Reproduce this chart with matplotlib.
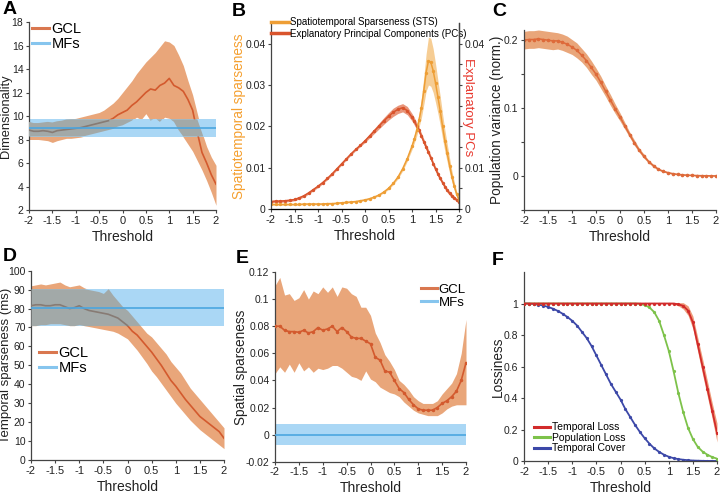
import numpy as np
import matplotlib
matplotlib.use('Agg')
import matplotlib.pyplot as plt
from matplotlib.lines import Line2D

plt.rcParams['font.family'] = ['Liberation Sans', 'DejaVu Sans']
plt.rcParams['axes.unicode_minus'] = False

# ---------------- data ----------------
x_ticks = [-2, -1.5, -1, -0.5, 0, 0.5, 1, 1.5, 2]
x_ticklabels = ['-2', '-1.5', '-1', '-0.5', '0', '0.5', '1', '1.5', '2']

thr = np.linspace(-2, 2, 41)  # threshold sampling, step 0.1

# Panel A: dimensionality
A_gcl = [8.8, 8.7, 8.7, 8.75, 8.7, 8.6, 8.75, 8.8, 8.85, 8.9, 8.95, 9.0, 9.1, 9.2, 9.3, 9.4,
         9.5, 9.6, 9.8, 10.1, 10.3, 10.5, 10.9, 11.2, 11.6, 12.0, 12.3, 12.2, 12.6, 12.8, 13.2,
         12.6, 12.4, 12.1, 11.4, 10.5, 8.6, 6.9, 6.0, 5.0, 4.2]
A_gcl_lo = [8.0, 8.0, 8.0, 7.95, 7.9, 7.75, 7.9, 8.0, 8.1, 8.1, 8.15, 8.2, 8.3, 8.4, 8.5, 8.6,
            8.7, 8.8, 8.9, 9.1, 9.2, 9.4, 9.6, 9.9, 9.7, 10.2, 9.6, 9.8, 9.5, 9.9, 9.8,
            9.5, 8.8, 8.2, 7.6, 7.0, 6.2, 5.4, 4.5, 3.5, 2.4]
A_gcl_hi = [9.5, 9.4, 9.4, 9.45, 9.5, 9.45, 9.55, 9.6, 9.7, 9.75, 9.8, 9.9, 10.0, 10.1, 10.2, 10.3,
            10.5, 10.8, 11.1, 11.5, 12.0, 12.5, 13.0, 13.6, 14.1, 14.6, 15.0, 15.4, 15.9, 16.4, 16.3,
            16.0, 15.2, 14.3, 13.0, 11.8, 10.2, 8.6, 7.4, 6.5, 5.8]
A_mf, A_mf_lo, A_mf_hi = 8.95, 8.25, 9.72

# Panel B: spatiotemporal sparseness and explanatory PCs
B_x = list(np.linspace(-2, 1, 31)) + list(np.linspace(1.05, 2, 20))
B_sts = [0.0011, 0.0011, 0.0011, 0.0011, 0.0011, 0.0011, 0.0011, 0.0012, 0.0012, 0.0012, 0.0012,
         0.0012, 0.0013, 0.0013, 0.0014, 0.0015, 0.0016, 0.0017, 0.0018, 0.0020, 0.0022,
         0.0025, 0.0029, 0.0034, 0.0041, 0.0050, 0.0062, 0.0077, 0.0097, 0.0122, 0.0152,
         0.0170, 0.0190, 0.0215, 0.0245, 0.0285, 0.0330, 0.0358, 0.0355, 0.0335, 0.0305,
         0.0272, 0.0238, 0.0200, 0.0165, 0.0135, 0.0105, 0.0078, 0.0055, 0.0036, 0.0022]
B_sts_err = [0.0002] * 25 + [0.0003, 0.0003, 0.0004, 0.0005, 0.0006, 0.0008,
                             0.0010, 0.0013, 0.0017, 0.0024, 0.0033, 0.0045, 0.0058, 0.0058,
                             0.0053, 0.0047, 0.0040, 0.0035, 0.0030, 0.0026, 0.0022, 0.0018,
                             0.0014, 0.0010, 0.0007, 0.0005]
B_pcs = [0.0018, 0.0019, 0.0019, 0.0020, 0.0021, 0.0023, 0.0027, 0.0032, 0.0039, 0.0047, 0.0055,
         0.0064, 0.0074, 0.0085, 0.0097, 0.0109, 0.0121, 0.0133, 0.0144, 0.0154, 0.0165,
         0.0177, 0.0189, 0.0201, 0.0213, 0.0224, 0.0234, 0.0241, 0.0245, 0.0238, 0.0222,
         0.0212, 0.0201, 0.0190, 0.0177, 0.0163, 0.0150, 0.0137, 0.0124, 0.0110, 0.0097,
         0.0085, 0.0074, 0.0064, 0.0054, 0.0045, 0.0038, 0.0032, 0.0027, 0.0022, 0.0018]
B_pcs_err = [0.0003] * 20 + [0.0004, 0.0005, 0.0006, 0.0007, 0.0008, 0.0009, 0.0010, 0.0010,
                             0.0010, 0.0010, 0.0009, 0.0009, 0.0008, 0.0008, 0.0007, 0.0007,
                             0.0007, 0.0007, 0.0006, 0.0006, 0.0006, 0.0006, 0.0005, 0.0005,
                             0.0005, 0.0005, 0.0005, 0.0005, 0.0004, 0.0004, 0.0004]

# Panel C: population variance
C_var = [0.200, 0.201, 0.201, 0.202, 0.201, 0.200, 0.199, 0.199, 0.197, 0.194, 0.190,
         0.185, 0.178, 0.170, 0.160, 0.150, 0.138, 0.125, 0.112, 0.099, 0.087,
         0.074, 0.061, 0.049, 0.038, 0.029, 0.021, 0.015, 0.010, 0.007, 0.005,
         0.0035, 0.0025, 0.0018, 0.0013, 0.0010, 0.0007, 0.0005, 0.0004, 0.0003, 0.0002]
C_err = [0.013, 0.013, 0.013, 0.013, 0.013, 0.013, 0.013, 0.012, 0.012, 0.012, 0.011,
         0.011, 0.010, 0.010, 0.010, 0.009, 0.009, 0.008, 0.008, 0.007, 0.006,
         0.005, 0.004, 0.004, 0.003, 0.003, 0.002, 0.002, 0.0015, 0.0012, 0.001,
         0.001, 0.0008, 0.0007, 0.0006, 0.0005, 0.0005, 0.0004, 0.0004, 0.0003, 0.0003]

# Panel D: temporal sparseness (ms)
D_gcl = [81.5, 82, 82, 81.5, 81.5, 82, 82, 81, 80, 80.5, 81.5, 80, 79, 78.5, 78, 77.5,
         77, 76, 75, 73, 71, 68, 66, 63, 60, 57, 53.5, 50, 46, 42, 39,
         35.5, 32, 29, 26, 23, 21, 19, 17, 15, 11.5]
D_gcl_lo = [71, 71, 71.5, 71.5, 72, 72, 72, 71.5, 71, 71, 71.5, 71, 70.5, 70, 69.5, 69,
            68.5, 68, 67, 65.5, 64, 61, 58, 54.5, 51, 47, 44, 40.5, 37, 33.5, 30,
            27, 24, 21, 18.5, 16, 14, 12, 10, 8, 6]
D_gcl_hi = [92, 92.5, 93, 92.5, 93, 93.5, 94, 92.5, 91.5, 92, 92.5, 91, 90, 89.5, 89, 88,
            90.5, 87, 84, 81, 79, 76, 73, 70, 67, 65, 62, 59, 56, 52, 49,
            46, 42, 38, 35, 32, 29, 26, 23, 20, 17]
D_mf, D_mf_lo, D_mf_hi = 80.5, 71.0, 90.5

# Panel E: spatial sparseness
E_gcl = [0.080, 0.080, 0.077, 0.076, 0.076, 0.0755, 0.077, 0.075, 0.076, 0.079, 0.077,
         0.078, 0.080, 0.076, 0.079, 0.076, 0.072, 0.071, 0.071, 0.069, 0.067,
         0.057, 0.055, 0.047, 0.046, 0.040, 0.034, 0.031, 0.026, 0.022, 0.019,
         0.018, 0.018, 0.018, 0.020, 0.023, 0.025, 0.028, 0.032, 0.040, 0.053]
E_gcl_lo = [0.045, 0.050, 0.046, 0.052, 0.046, 0.053, 0.047, 0.050, 0.046, 0.049, 0.048,
            0.049, 0.051, 0.051, 0.049, 0.046, 0.043, 0.042, 0.040, 0.047, 0.041,
            0.039, 0.035, 0.033, 0.031, 0.030, 0.028, 0.024, 0.021, 0.018, 0.016,
            0.015, 0.014, 0.014, 0.014, 0.016, 0.019, 0.021, 0.022, 0.022, 0.022]
E_gcl_hi = [0.110, 0.116, 0.103, 0.104, 0.099, 0.101, 0.107, 0.100, 0.106, 0.104, 0.109,
            0.105, 0.109, 0.102, 0.109, 0.108, 0.104, 0.102, 0.094, 0.094, 0.088,
            0.075, 0.068, 0.059, 0.054, 0.048, 0.040, 0.037, 0.033, 0.028, 0.025,
            0.023, 0.023, 0.023, 0.025, 0.030, 0.034, 0.038, 0.045, 0.060, 0.085]
E_mf, E_mf_lo, E_mf_hi = 0.0, -0.008, 0.008

# Panel F: lossiness
F_temporal_loss = [1.0] * 32 + [0.995, 0.985, 0.955, 0.88, 0.74, 0.60, 0.46, 0.32, 0.18]
F_temporal_loss_err = [0.0] * 31 + [0.005, 0.01, 0.02, 0.03, 0.04, 0.045, 0.05, 0.05, 0.05, 0.06]
F_population_loss = [1.0] * 24 + [0.998, 0.99, 0.975, 0.945, 0.89, 0.80, 0.70, 0.57, 0.43, 0.31,
                                  0.21, 0.14, 0.09, 0.06, 0.04, 0.025, 0.015]
F_temporal_cover = [1.0, 0.999, 0.997, 0.993, 0.987, 0.978, 0.967, 0.953, 0.935, 0.914, 0.89,
                    0.86, 0.82, 0.78, 0.73, 0.67, 0.61, 0.55, 0.49, 0.44, 0.39,
                    0.33, 0.28, 0.23, 0.185, 0.145, 0.11, 0.08, 0.058, 0.04, 0.027,
                    0.018, 0.012, 0.008, 0.005, 0.003, 0.002, 0.001, 0.0005, 0.0003, 0.0002]

# ---------------- styling ----------------
GCL_FILL = '#E9A67A'
GCL_LINE = '#D35A2E'
GCL_HANDLE = '#D9774F'
MF_FILL = '#AAD7F5'
MF_LINE = '#4BA6E0'
MF_HANDLE = '#86C5EE'
OVERLAP = '#A2A9A8'
OVERLAP_LINE = '#877B74'
SPINE = '#444444'
TXT = '#222222'
TICK_FS = 7.5

fig = plt.figure(figsize=(7.2, 4.94), dpi=100)


def px_axes(left, top, right, bottom):
    W, H = 720.0, 494.0
    return fig.add_axes([left / W, 1 - bottom / H, (right - left) / W, (bottom - top) / H])


def style(ax, right=False):
    ax.spines['top'].set_visible(False)
    if not right:
        ax.spines['right'].set_visible(False)
    for s in ax.spines.values():
        s.set_color(SPINE)
        s.set_linewidth(0.9)
    ax.tick_params(direction='out', length=2.5, width=0.8, colors=SPINE,
                   labelsize=TICK_FS, labelcolor=TXT, pad=1.5)
    ax.tick_params(axis='x', labelsize=8)
    ax.set_xlim(-2, 2)
    ax.set_xticks(x_ticks)
    ax.set_xticklabels(x_ticklabels)
    ax.set_xlabel('Threshold', fontsize=10, color=TXT, labelpad=3)


def set_ylab(ax, text, xc, yc=0.5, **kw):
    ax.set_ylabel(text, fontsize=kw.pop('fontsize', 9.8), color=kw.pop('color', TXT),
                  va='center', **kw)
    ax.yaxis.set_label_coords(xc, yc)


def band_panel(ax, x, m, lo, hi, mf, mf_lo, mf_hi):
    x = np.asarray(x); m = np.asarray(m); lo = np.asarray(lo); hi = np.asarray(hi)
    mlo = np.full_like(x, mf_lo); mhi = np.full_like(x, mf_hi)
    ax.fill_between(x, lo, hi, color=GCL_FILL, lw=0, zorder=1)
    ax.fill_between(x, mlo, mhi, color=MF_FILL, lw=0, zorder=1)
    ax.plot(x, m, color=GCL_LINE, lw=1.2, zorder=2)
    ov_lo = np.maximum(lo, mlo); ov_hi = np.minimum(hi, mhi)
    ax.fill_between(x, ov_lo, ov_hi, where=ov_hi > ov_lo, interpolate=True,
                    color=OVERLAP, lw=0, zorder=3)
    inside = np.where((m >= mf_lo) & (m <= mf_hi), m, np.nan)
    ax.plot(x, inside, color=OVERLAP_LINE, lw=1.2, zorder=4)
    ax.plot([x[0], x[-1]], [mf, mf], color=MF_LINE, lw=1.2, zorder=5)


def gcl_mf_legend(ax, **kw):
    h = [Line2D([], [], color=GCL_HANDLE, lw=2.2), Line2D([], [], color=MF_HANDLE, lw=2.2)]
    ax.legend(h, ['GCL', 'MFs'], frameon=False, handlelength=1.2, handletextpad=0.15,
              labelspacing=0.05, borderpad=0, borderaxespad=0, **kw)


# ---- A ----
axA = px_axes(29, 22, 216, 210)
style(axA)
band_panel(axA, thr, A_gcl, A_gcl_lo, A_gcl_hi, A_mf, A_mf_lo, A_mf_hi)
axA.set_ylim(2, 18)
axA.set_yticks(range(2, 19, 2))
set_ylab(axA, 'Dimensionality', -0.124, fontsize=9.3)
gcl_mf_legend(axA, loc='upper left', bbox_to_anchor=(0.015, 1.0), fontsize=10.5)

# ---- B ----
axB = px_axes(271, 23, 459, 209)
style(axB, right=True)
bx = np.asarray(B_x)
sts = np.asarray(B_sts); sts_e = np.asarray(B_sts_err)
pcs = np.asarray(B_pcs); pcs_e = np.asarray(B_pcs_err)
axB.fill_between(bx, pcs - pcs_e, pcs + pcs_e, color='#E9957A', lw=0, zorder=1)
axB.fill_between(bx, sts - sts_e, sts + sts_e, color='#F6C888', lw=0, zorder=1.5, alpha=0.9)
axB.plot(bx, pcs, color='#D9542C', lw=1.1, marker='o', ms=1.4, zorder=2)
axB.plot(bx, sts, color='#EE9E35', lw=1.1, marker='o', ms=1.4, zorder=2.5)
axB.set_ylim(0, 0.045)
axB.set_yticks([0, 0.01, 0.02, 0.03, 0.04])
axB.set_yticklabels(['0', '0.01', '0.02', '0.03', '0.04'])
set_ylab(axB, 'Spatiotemporal sparseness', -0.168, color='#F5A030')
axB2 = axB.twinx()
axB2.set_ylim(0, 0.045)
axB2.spines['top'].set_visible(False)
axB2.spines['left'].set_visible(False)
axB2.spines['right'].set_color(SPINE)
axB2.spines['right'].set_linewidth(0.9)
axB2.set_yticks([0, 0.01, 0.02, 0.03, 0.04])
axB2.set_yticklabels(['0', '0.01', '', '', '0.04'])
axB2.set_yticks([0.005, 0.015, 0.025, 0.035], minor=True)
axB2.tick_params(which='both', direction='out', length=2.5, width=0.8, colors=SPINE,
                 labelsize=TICK_FS, labelcolor=TXT, pad=1.5)
axB2.set_ylabel('Explanatory PCs', fontsize=9.5, color='#E8392F', rotation=270, va='center')
axB2.yaxis.set_label_coords(1.05, 0.55)
hB = [Line2D([], [], color='#EE9E35', lw=2.5), Line2D([], [], color='#D9542C', lw=2.5)]
axB.legend(hB, ['Spatiotemporal Sparseness (STS)', 'Explanatory Principal Components (PCs)'],
           loc='upper left', bbox_to_anchor=(0.0, 1.03), frameon=False, fontsize=7,
           handlelength=1.8, handletextpad=0.15, labelspacing=0.15, borderpad=0, borderaxespad=0)

# ---- C ----
axC = px_axes(524, 30, 716, 210)
style(axC)
cv = np.asarray(C_var); ce = np.asarray(C_err)
axC.fill_between(thr, cv - ce, cv + ce, color=GCL_FILL, lw=0, zorder=1)
axC.plot(thr, cv, color='#DE6A3A', lw=1.1, marker='o', ms=1.6, zorder=2)
axC.set_ylim(-0.05, 0.215)
axC.set_yticks([0, 0.1, 0.2])
axC.set_yticklabels(['0', '0.1', '0.2'])
axC.set_yticks([-0.05, 0.05, 0.15], minor=True)
axC.tick_params(which='minor', direction='out', length=2.5, width=0.8, colors=SPINE)
set_ylab(axC, 'Population variance (norm.)', -0.14)

# ---- D ----
axD = px_axes(31, 270.7, 224, 460)
style(axD)
band_panel(axD, thr, D_gcl, D_gcl_lo, D_gcl_hi, D_mf, D_mf_lo, D_mf_hi)
axD.set_ylim(0, 100)
axD.set_yticks(range(0, 101, 10))
set_ylab(axD, 'Temporal sparseness (ms)', -0.127, fontsize=9.5)
gcl_mf_legend(axD, loc='center left', bbox_to_anchor=(0.04, 0.525), fontsize=10.5)

# ---- E ----
axE = px_axes(275, 272, 466, 461.7)
style(axE)
band_panel(axE, thr, E_gcl, E_gcl_lo, E_gcl_hi, E_mf, E_mf_lo, E_mf_hi)
axE.plot(thr, E_gcl, color=GCL_LINE, lw=0, marker='o', ms=1.5, zorder=6)
axE.set_ylim(-0.02, 0.12)
eticks = [-0.02, 0, 0.02, 0.04, 0.06, 0.08, 0.1, 0.12]
axE.set_yticks(eticks)
axE.set_yticklabels(['-0.02', '0', '0.02', '0.04', '0.06', '0.08', '0.1', '0.12'])
set_ylab(axE, 'Spatial sparseness', -0.18)
gcl_mf_legend(axE, loc='upper right', bbox_to_anchor=(1.0, 0.94), fontsize=9.5)

# ---- F ----
axF = px_axes(524, 272, 717, 461)
style(axF)
tl = np.asarray(F_temporal_loss); tle = np.asarray(F_temporal_loss_err)
axF.fill_between(thr, tl - tle, tl + tle, color='#EE9A78', lw=0, zorder=1)
axF.plot(thr, F_temporal_cover, color='#3C48A8', lw=1.3, marker='o', ms=1.3, zorder=2)
axF.plot(thr, F_population_loss, color='#7DC24A', lw=1.3, marker='o', ms=1.3, zorder=3)
axF.plot(thr, F_temporal_loss, color='#D22B2B', lw=1.3, marker='o', ms=1.3, zorder=4)
axF.set_ylim(0, 1.2)
axF.set_yticks([0, 0.2, 0.4, 0.6, 0.8, 1])
axF.set_yticklabels(['0', '0.2', '0.4', '0.6', '0.8', '1'])
set_ylab(axF, 'Lossiness', -0.135)
hF = [Line2D([], [], color='#D22B2B', lw=2.2), Line2D([], [], color='#7DC24A', lw=2.2),
      Line2D([], [], color='#3C48A8', lw=2.2)]
axF.legend(hF, ['Temporal Loss', 'Population Loss', 'Temporal Cover'], loc='lower left',
           bbox_to_anchor=(0.05, 0.04), frameon=False, fontsize=7.5, handlelength=1.6,
           handletextpad=0.15, labelspacing=0.05, borderpad=0, borderaxespad=0)

# panel letters
for lab, (fx, fy) in {'A': (0.004, 0.998), 'B': (0.322, 0.993), 'C': (0.683, 0.993),
                      'D': (0.004, 0.497), 'E': (0.327, 0.494), 'F': (0.683, 0.49)}.items():
    fig.text(fx, fy, lab, fontsize=14, fontweight='bold', ha='left', va='top', color='black')

fig.savefig('out.png', dpi=100, facecolor='white')
